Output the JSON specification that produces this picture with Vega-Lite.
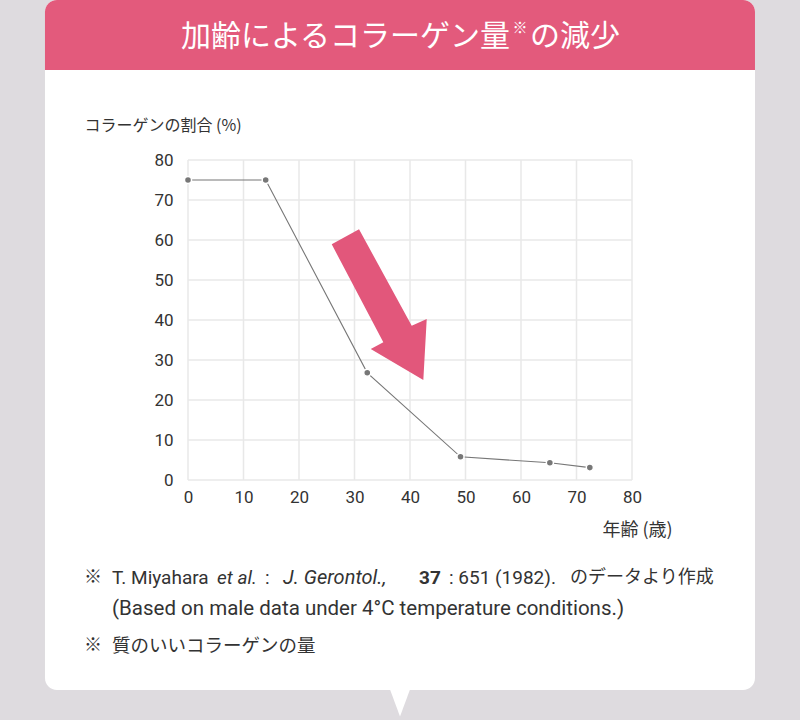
{
  "$schema": "https://vega.github.io/schema/vega-lite/v6.json",
  "width": 444,
  "height": 320,
  "autosize": "none",
  "padding": {"left": 188, "top": 160, "right": 168, "bottom": 240},
  "background": "#dedbdf",
  "datasets": {
    "collagen": [
      {"age": 0, "pct": 75},
      {"age": 14, "pct": 75},
      {"age": 32.3, "pct": 26.8},
      {"age": 49.1, "pct": 5.8},
      {"age": 65.2, "pct": 4.3},
      {"age": 72.4, "pct": 3.1}
    ],
    "grid": [
      {"v": 0}, {"v": 10}, {"v": 20}, {"v": 30}, {"v": 40},
      {"v": 50}, {"v": 60}, {"v": 70}, {"v": 80}
    ],
    "one": [{}]
  },
  "config": {
    "view": {"stroke": null},
    "axis": {
      "grid": false,
      "domain": false,
      "ticks": false,
      "labelFlush": false,
      "labelOverlap": false,
      "labelFont": "Roboto",
      "labelFontSize": 17,
      "labelColor": "#333333",
      "titleFont": "Noto Sans CJK JP",
      "titleFontWeight": "normal",
      "titleColor": "#333333"
    },
    "text": {"font": "Roboto", "fontSize": 19, "color": "#333333", "align": "left", "baseline": "middle"}
  },
  "layer": [
    {
      "data": {"name": "one"},
      "mark": {"type": "rect", "color": "white", "cornerRadius": 12},
      "encoding": {
        "x": {"datum": -25.77, "type": "quantitative"},
        "x2": {"datum": 102.16},
        "y": {"datum": 120, "type": "quantitative"},
        "y2": {"datum": -52.5}
      }
    },
    {
      "data": {"name": "one"},
      "mark": {"type": "rect", "color": "#e35a7c", "cornerRadiusTopLeft": 12, "cornerRadiusTopRight": 12},
      "encoding": {
        "x": {"datum": -25.77, "type": "quantitative"},
        "x2": {"datum": 102.16},
        "y": {"datum": 120, "type": "quantitative"},
        "y2": {"datum": 102.5}
      }
    },
    {
      "data": {"name": "one"},
      "mark": {"type": "point", "shape": "M-0.37,-0.5L0.37,-0.5L0,0.5Z", "size": 2916, "filled": true, "color": "white", "opacity": 1},
      "encoding": {
        "x": {"datum": 38.2, "type": "quantitative"},
        "y": {"datum": -55.75, "type": "quantitative"}
      }
    },
    {
      "data": {"name": "grid"},
      "mark": {"type": "rule", "color": "#e8e8e8", "strokeWidth": 1.5},
      "encoding": {"x": {"field": "v", "type": "quantitative"}}
    },
    {
      "data": {"name": "grid"},
      "mark": {"type": "rule", "color": "#e8e8e8", "strokeWidth": 1.5},
      "encoding": {"y": {"field": "v", "type": "quantitative"}}
    },
    {
      "data": {"name": "collagen"},
      "mark": {"type": "line", "color": "#777777", "strokeWidth": 1.1},
      "encoding": {
        "x": {
          "field": "age",
          "type": "quantitative",
          "scale": {"domain": [0, 80], "nice": false},
          "axis": {
            "zindex": 1,
            "values": [0, 10, 20, 30, 40, 50, 60, 70, 80],
            "labelOverlap": false,
            "labelPadding": 9,
            "title": "年齢 (歳)",
            "titleFontSize": 18,
            "titleX": 449,
            "titleY": 50,
            "titleAlign": "center",
            "titleBaseline": "middle",
            "titleAngle": 0
          }
        },
        "y": {
          "field": "pct",
          "type": "quantitative",
          "scale": {"domain": [0, 80], "nice": false},
          "axis": {
            "zindex": 1,
            "values": [0, 10, 20, 30, 40, 50, 60, 70, 80],
            "tickCount": 9,
            "labelOverlap": false,
            "labelBound": false,
            "labelPadding": 15,
            "title": "コラーゲンの割合 (%)",
            "titleFontSize": 16,
            "titleX": -104,
            "titleY": -35,
            "titleAlign": "left",
            "titleBaseline": "middle",
            "titleAngle": 0
          }
        }
      }
    },
    {
      "data": {"name": "collagen"},
      "mark": {"type": "point", "filled": true, "size": 50, "color": "#777777", "stroke": "white", "strokeWidth": 1.5, "opacity": 1},
      "encoding": {
        "x": {"field": "age", "type": "quantitative"},
        "y": {"field": "pct", "type": "quantitative"}
      }
    },
    {
      "data": {"name": "one"},
      "mark": {
        "type": "point",
        "shape": "M-0.533,-0.647L-0.26,-0.797L0.267,0.167L0.417,0.1L0.383,0.71L-0.143,0.4L-0.017,0.333Z",
        "size": 40000,
        "filled": true,
        "color": "#e2577b",
        "opacity": 1
      },
      "encoding": {
        "x": {"datum": 35.5, "type": "quantitative"},
        "y": {"datum": 42.75, "type": "quantitative"}
      }
    },
    {
      "data": {"name": "one"},
      "mark": {"type": "text", "text": "加齢によるコラーゲン量", "font": "Noto Sans CJK JP", "fontSize": 30, "color": "white", "align": "right"},
      "encoding": {
        "x": {"datum": 58.02, "type": "quantitative"},
        "y": {"datum": 110.75, "type": "quantitative"}
      }
    },
    {
      "data": {"name": "one"},
      "mark": {"type": "text", "text": "※", "font": "Noto Sans CJK JP", "fontSize": 15, "color": "white", "align": "center"},
      "encoding": {
        "x": {"datum": 59.82, "type": "quantitative"},
        "y": {"datum": 113, "type": "quantitative"}
      }
    },
    {
      "data": {"name": "one"},
      "mark": {"type": "text", "text": "の減少", "font": "Noto Sans CJK JP", "fontSize": 30, "color": "white"},
      "encoding": {
        "x": {"datum": 61.62, "type": "quantitative"},
        "y": {"datum": 110.75, "type": "quantitative"}
      }
    },
    {
      "data": {"name": "one"},
      "mark": {"type": "text", "text": "※", "font": "Noto Sans CJK JP", "fontSize": 18},
      "encoding": {
        "x": {"datum": -18.74, "type": "quantitative"},
        "y": {"datum": -24.5, "type": "quantitative"}
      }
    },
    {
      "data": {"name": "one"},
      "mark": {"type": "text", "text": "T. Miyahara"},
      "encoding": {
        "x": {"datum": -13.69, "type": "quantitative"},
        "y": {"datum": -24.5, "type": "quantitative"}
      }
    },
    {
      "data": {"name": "one"},
      "mark": {"type": "text", "text": "et al.", "fontStyle": "italic"},
      "encoding": {
        "x": {"datum": 5.23, "type": "quantitative"},
        "y": {"datum": -24.5, "type": "quantitative"}
      }
    },
    {
      "data": {"name": "one"},
      "mark": {"type": "text", "text": ":"},
      "encoding": {
        "x": {"datum": 13.87, "type": "quantitative"},
        "y": {"datum": -24.5, "type": "quantitative"}
      }
    },
    {
      "data": {"name": "one"},
      "mark": {"type": "text", "text": "J. Gerontol.,", "fontStyle": "italic", "fontSize": 20},
      "encoding": {
        "x": {"datum": 17.12, "type": "quantitative"},
        "y": {"datum": -24.5, "type": "quantitative"}
      }
    },
    {
      "data": {"name": "one"},
      "mark": {"type": "text", "text": "37", "fontWeight": "bold"},
      "encoding": {
        "x": {"datum": 41.62, "type": "quantitative"},
        "y": {"datum": -24.5, "type": "quantitative"}
      }
    },
    {
      "data": {"name": "one"},
      "mark": {"type": "text", "text": ": 651 (1982)."},
      "encoding": {
        "x": {"datum": 47.03, "type": "quantitative"},
        "y": {"datum": -24.5, "type": "quantitative"}
      }
    },
    {
      "data": {"name": "one"},
      "mark": {"type": "text", "text": "のデータより作成", "font": "Noto Sans CJK JP", "fontSize": 18},
      "encoding": {
        "x": {"datum": 68.83, "type": "quantitative"},
        "y": {"datum": -24.5, "type": "quantitative"}
      }
    },
    {
      "data": {"name": "one"},
      "mark": {"type": "text", "text": "(Based on male data under 4°C temperature conditions.)", "fontSize": 20.5},
      "encoding": {
        "x": {"datum": -13.69, "type": "quantitative"},
        "y": {"datum": -32.25, "type": "quantitative"}
      }
    },
    {
      "data": {"name": "one"},
      "mark": {"type": "text", "text": "※", "font": "Noto Sans CJK JP", "fontSize": 18},
      "encoding": {
        "x": {"datum": -18.74, "type": "quantitative"},
        "y": {"datum": -41.5, "type": "quantitative"}
      }
    },
    {
      "data": {"name": "one"},
      "mark": {"type": "text", "text": "質のいいコラーゲンの量", "font": "Noto Sans CJK JP", "fontSize": 18.5},
      "encoding": {
        "x": {"datum": -13.69, "type": "quantitative"},
        "y": {"datum": -41.5, "type": "quantitative"}
      }
    }
  ]
}
